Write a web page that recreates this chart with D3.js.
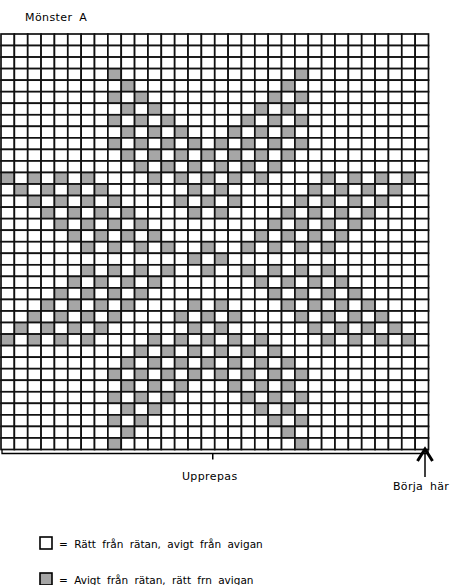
<!DOCTYPE html>
<html>
<head>
<meta charset="utf-8">
<script src="https://cdn.jsdelivr.net/npm/d3@7"></script>
<style>
  body { margin: 0; background: #fff; }
  text { font-family: "DejaVu Sans", sans-serif; fill: #000; }
</style>
</head>
<body>
<div class="chart"></div>
<script>
// stitch columns and rows of the chart (row 0 = top of chart)
var stitchCols = d3.range(32);
var stitchRows = d3.range(36);

// purl (grey) stitches, column indices for each row from the top
var purlByRow = [
	[],
	[],
	[],
	[8, 22],
	[9, 21],
	[8, 10, 20, 22],
	[9, 11, 19, 21],
	[8, 10, 12, 18, 20, 22],
	[9, 11, 13, 17, 19, 21],
	[8, 10, 12, 14, 16, 18, 20, 22],
	[9, 11, 13, 15, 17, 19, 21],
	[10, 12, 14, 16, 18, 20],
	[0, 2, 4, 6, 11, 13, 15, 17, 19, 24, 26, 28, 30],
	[1, 3, 5, 7, 14, 16, 23, 25, 27, 29],
	[2, 4, 6, 8, 13, 15, 17, 22, 24, 26, 28],
	[3, 5, 7, 9, 14, 16, 21, 23, 25, 27],
	[4, 6, 8, 10, 20, 22, 24, 26],
	[5, 7, 9, 11, 19, 21, 23, 25],
	[6, 8, 10, 12, 15, 18, 20, 22, 24],
	[14, 16],
	[6, 8, 10, 12, 15, 18, 20, 22, 24],
	[5, 7, 9, 11, 19, 21, 23, 25],
	[4, 6, 8, 10, 20, 22, 24, 26],
	[3, 5, 7, 9, 14, 16, 21, 23, 25, 27],
	[2, 4, 6, 8, 13, 15, 17, 22, 24, 26, 28],
	[1, 3, 5, 7, 14, 16, 23, 25, 27, 29],
	[0, 2, 4, 6, 11, 13, 15, 17, 19, 24, 26, 28, 30],
	[10, 12, 14, 16, 18, 20],
	[9, 11, 13, 15, 17, 19, 21],
	[8, 10, 12, 14, 16, 18, 20, 22],
	[9, 11, 13, 17, 19, 21],
	[8, 10, 12, 18, 20, 22],
	[9, 11, 19, 21],
	[8, 10, 20, 22],
	[9, 21],
	[8, 22]
];

var legendItems = [
	{key: "knit", label: "= Rätt från rätan, avigt från avigan"},
	{key: "purl", label: "= Avigt från rätan, rätt frn avigan"}
];

var titleText = "Mönster A";
var repeatText = "Upprepas";
var startText = "Börja här";

var COLORS = {knit: "#ffffff", purl: "#a6a6a6", line: "#111111"};

var W = 451, H = 585;
var grid = {left: 1, right: 428.5, top: 34, bottom: 449.5};

var svg = d3.select(".chart").append("svg")
	.attr("width", W)
	.attr("height", H);

var x = d3.scaleBand().domain(stitchCols).range([grid.left, grid.right]);
var y = d3.scaleBand().domain(stitchRows).range([grid.top, grid.bottom]);

// title
svg.append("text")
	.attr("x", 25)
	.attr("y", 21)
	.style("font-size", "11px")
	.style("letter-spacing", "0.4px")
	.style("word-spacing", "3px")
	.text(titleText);

// cells
var cells = [];
purlByRow.forEach(function (purls, r) {
	stitchCols.forEach(function (c) {
		cells.push({row: r, col: c, purl: purls.indexOf(c) >= 0});
	});
});

svg.append("g").attr("class", "cells")
	.selectAll("rect")
	.data(cells)
	.enter().append("rect")
	.attr("x", function (d) { return x(d.col); })
	.attr("y", function (d) { return y(d.row); })
	.attr("width", x.bandwidth())
	.attr("height", y.bandwidth())
	.attr("fill", function (d) { return d.purl ? COLORS.purl : COLORS.knit; })
	.attr("stroke", COLORS.line)
	.attr("stroke-width", 1.7);

// repeat bracket under the chart
var by = grid.bottom + 4;
svg.append("path")
	.attr("d", "M" + (grid.left + 1) + "," + grid.bottom + "V" + by + "H" + (grid.right - 0.5) + "V" + grid.bottom)
	.attr("fill", "none")
	.attr("stroke", "#000")
	.attr("stroke-width", 1.3);

var mid = (grid.left + grid.right) / 2 - 2;
svg.append("line")
	.attr("x1", mid).attr("x2", mid)
	.attr("y1", by).attr("y2", by + 6)
	.attr("stroke", "#000")
	.attr("stroke-width", 1.5);

svg.append("text")
	.attr("x", mid - 3)
	.attr("y", 480)
	.attr("text-anchor", "middle")
	.style("font-size", "11px")
	.style("letter-spacing", "0.4px")
	.text(repeatText);

// start arrow
var ax = grid.right - 3.5;
svg.append("line")
	.attr("x1", ax).attr("x2", ax)
	.attr("y1", 449).attr("y2", 477)
	.attr("stroke", "#000")
	.attr("stroke-width", 1.5);
svg.append("path")
	.attr("d", "M" + (ax - 7.5) + ",461L" + ax + ",449L" + (ax + 7.5) + ",461")
	.attr("fill", "none")
	.attr("stroke", "#000")
	.attr("stroke-width", 3);

svg.append("text")
	.attr("x", 393)
	.attr("y", 490)
	.style("font-size", "11px")
	.style("letter-spacing", "0.3px")
	.style("word-spacing", "3px")
	.text(startText);

// legend
var legend = svg.append("g").attr("class", "legend")
	.selectAll("g")
	.data(legendItems)
	.enter().append("g")
	.attr("transform", function (d, i) { return "translate(40," + (537 + i * 36) + ")"; });

legend.append("rect")
	.attr("width", 12)
	.attr("height", 12)
	.attr("fill", function (d) { return COLORS[d.key]; })
	.attr("stroke", "#000")
	.attr("stroke-width", 1.6);

legend.append("text")
	.attr("x", 19)
	.attr("y", 11)
	.style("font-size", "10.5px")
	.style("word-spacing", "3px")
	.text(function (d) { return d.label; });
</script>
</body>
</html>
